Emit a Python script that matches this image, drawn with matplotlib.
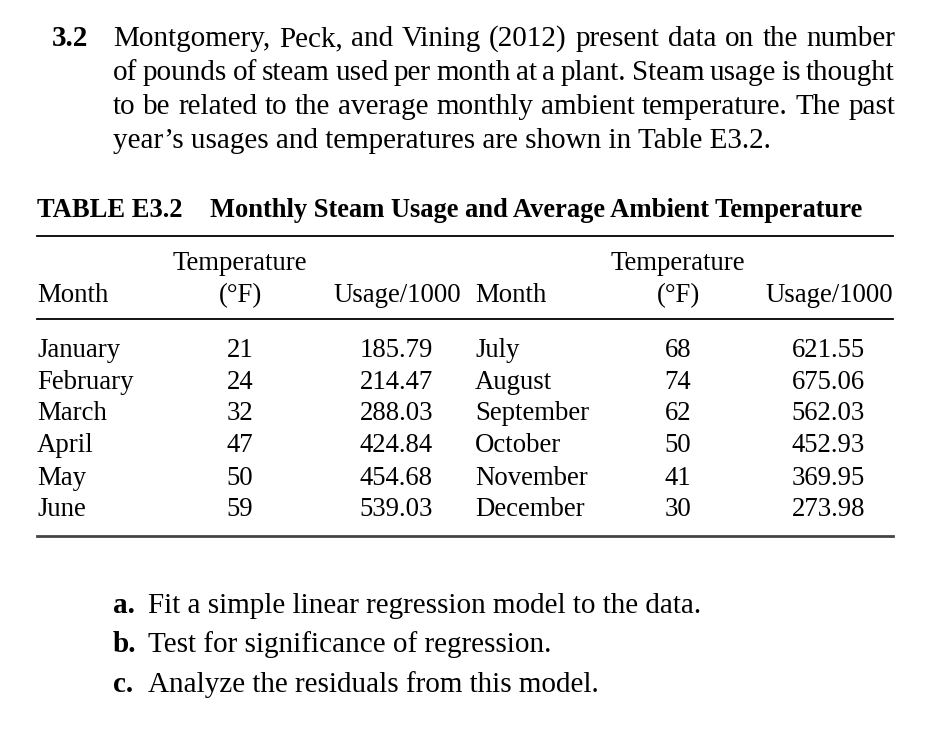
import matplotlib
matplotlib.use("Agg")
import matplotlib.pyplot as plt

# table data
months_left = ["January", "February", "March", "April", "May", "June"]
temp_left = [21, 24, 32, 47, 50, 59]
usage_left = [185.79, 214.47, 288.03, 424.84, 454.68, 539.03]
months_right = ["July", "August", "September", "October", "November", "December"]
temp_right = [68, 74, 62, 50, 41, 30]
usage_right = [621.55, 675.06, 562.03, 452.93, 369.95, 273.98]

intro_lines = [
    "Montgomery, Peck, and Vining (2012) present data on the number",
    "of pounds of steam used per month at a plant. Steam usage is thought",
    "to be related to the average monthly ambient temperature. The past",
    "year\u2019s usages and temperatures are shown in Table E3.2.",
]
questions = [
    ("a.", "Fit a simple linear regression model to the data."),
    ("b.", "Test for significance of regression."),
    ("c.", "Analyze the residuals from this model."),
]

plt.rcParams['font.family'] = ['Liberation Serif', 'DejaVu Serif']

W, H = 932, 736
fig = plt.figure(figsize=(W / 100, H / 100), dpi=100)
ax = fig.add_axes([0, 0, 1, 1])
ax.set_xlim(0, W)
ax.set_ylim(H, 0)
ax.axis('off')
renderer = fig.canvas.get_renderer()

BODY = 21.0
TAB = 19.3
CAP = 19.1


def justify(words, x0, x1, y, size):
    """draw words spread so the line runs from x0 to x1"""
    items = [ax.text(0, y, w, fontsize=size, va='baseline', ha='left') for w in words]
    widths = [t.get_window_extent(renderer).width for t in items]
    gap = (x1 - x0 - sum(widths)) / max(len(words) - 1, 1)
    x = x0
    for t, w in zip(items, widths):
        t.set_x(x)
        x += w + gap


# problem statement
ax.text(52, 46, "3.2", fontsize=BODY, fontweight='bold', va='baseline')
baselines = [46, 80, 114, 148]
for i, (line, yb) in enumerate(zip(intro_lines, baselines)):
    if i < len(intro_lines) - 1:
        justify(line.split(), 113, 895, yb, BODY)
    else:
        ax.text(113, yb, line, fontsize=BODY, va='baseline')

# table caption
ax.text(37, 217, "TABLE E3.2", fontsize=CAP, fontweight='bold', va='baseline')
ax.text(210, 217, "Monthly Steam Usage and Average Ambient Temperature",
        fontsize=CAP, fontweight='bold', va='baseline')

# rules
ax.plot([37, 893], [236, 236], color='black', lw=1.3)
ax.plot([37, 893], [319, 319], color='black', lw=1.3)
ax.plot([37, 893], [536, 536], color='#444444', lw=2.0)

# header
for mx, tx, ux in [(37, 240, 461), (475, 678, 893)]:
    ax.text(mx, 302, "Month", fontsize=TAB, va='baseline')
    ax.text(tx, 270, "Temperature", fontsize=TAB, va='baseline', ha='center')
    ax.text(tx, 302, "(\u00b0F)", fontsize=TAB, va='baseline', ha='center')
    ax.text(ux, 302, "Usage/1000", fontsize=TAB, va='baseline', ha='right')

# rows
row_y = [357, 389, 420, 452, 485, 516]
for i, yb in enumerate(row_y):
    ax.text(37, yb, months_left[i], fontsize=TAB, va='baseline')
    ax.text(240, yb, str(temp_left[i]), fontsize=TAB, va='baseline', ha='center')
    ax.text(433, yb, f"{usage_left[i]:.2f}", fontsize=TAB, va='baseline', ha='right')
    ax.text(475, yb, months_right[i], fontsize=TAB, va='baseline')
    ax.text(678, yb, str(temp_right[i]), fontsize=TAB, va='baseline', ha='center')
    ax.text(865, yb, f"{usage_right[i]:.2f}", fontsize=TAB, va='baseline', ha='right')

# questions
q_y = [613, 652, 692]
for (lab, txt), yb in zip(questions, q_y):
    ax.text(113, yb, lab, fontsize=BODY, fontweight='bold', va='baseline')
    ax.text(148, yb, txt, fontsize=BODY, va='baseline')

fig.savefig("out.png", dpi=100)
